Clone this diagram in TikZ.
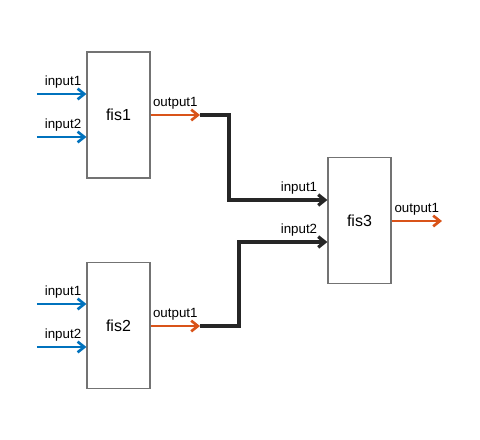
\documentclass[tikz,border=0pt]{standalone}
\usepackage{fontspec}
\setmainfont{Liberation Sans}
\usetikzlibrary{arrows.meta, calc}
\definecolor{inblue}{RGB}{0,114,189}
\definecolor{outorange}{RGB}{217,83,25}

\begin{document}
\begin{tikzpicture}[x=0.75pt, y=-0.75pt,
    >={Straight Barb[length=5pt, width=8pt]},
    fisbox/.style={draw=black!55, line width=0.9pt, fill=white, inner sep=0pt,
        minimum width=47.25pt, minimum height=94.5pt, font=\fontsize{12}{14}\selectfont},
    lbl/.style={font=\fontsize{10}{12}\selectfont, inner sep=3pt},
    inarrow/.style={->, draw=inblue, line width=2pt},
    outarrow/.style={->, draw=outorange, line width=2pt},
    link/.style={->, draw=black!85, line width=2.4pt}]
\useasboundingbox (0,0) rectangle (480,440);
\node[fisbox] at (118.5, 115)   (fis1) {fis1};
\node[fisbox] at (118.5, 325.5) (fis2) {fis2};
\node[fisbox] at (359.5, 220.5) (fis3) {fis3};
% free ends
\coordinate (a11) at (37, 94);
\coordinate (a12) at (37, 137);
\coordinate (a21) at (37, 304);
\coordinate (a22) at (37, 347);
\coordinate (o1) at (200, 115);
\coordinate (o2) at (200, 326);
\coordinate (o3) at (442, 221);
\coordinate (b1) at (229, 200);
\coordinate (b2) at (239, 242);
% inputs
\path (a11) edge[inarrow] node[lbl, above, xshift=1pt] {input1} (a11 -| fis1.west);
\path (a12) edge[inarrow] node[lbl, above, xshift=1pt] {input2} (a12 -| fis1.west);
\path (a21) edge[inarrow] node[lbl, above, xshift=1pt] {input1} (a21 -| fis2.west);
\path (a22) edge[inarrow] node[lbl, above, xshift=1pt] {input2} (a22 -| fis2.west);
% outputs
\path (fis1.east |- o1) edge[outarrow] node[lbl, above] {output1} (o1);
\path (fis2.east |- o2) edge[outarrow] node[lbl, above] {output1} (o2);
\path (fis3.east |- o3) edge[outarrow] node[lbl, above] {output1} (o3);
% links into fis3
\draw[link] (o1) -| (b1) -- node[lbl, pos=1, anchor=south east, xshift=-3.5pt] {input1} (b1 -| fis3.west);
\draw[link] (o2) -| (b2) -- node[lbl, pos=1, anchor=south east, xshift=-3.5pt] {input2} (b2 -| fis3.west);
\end{tikzpicture}
\end{document}
